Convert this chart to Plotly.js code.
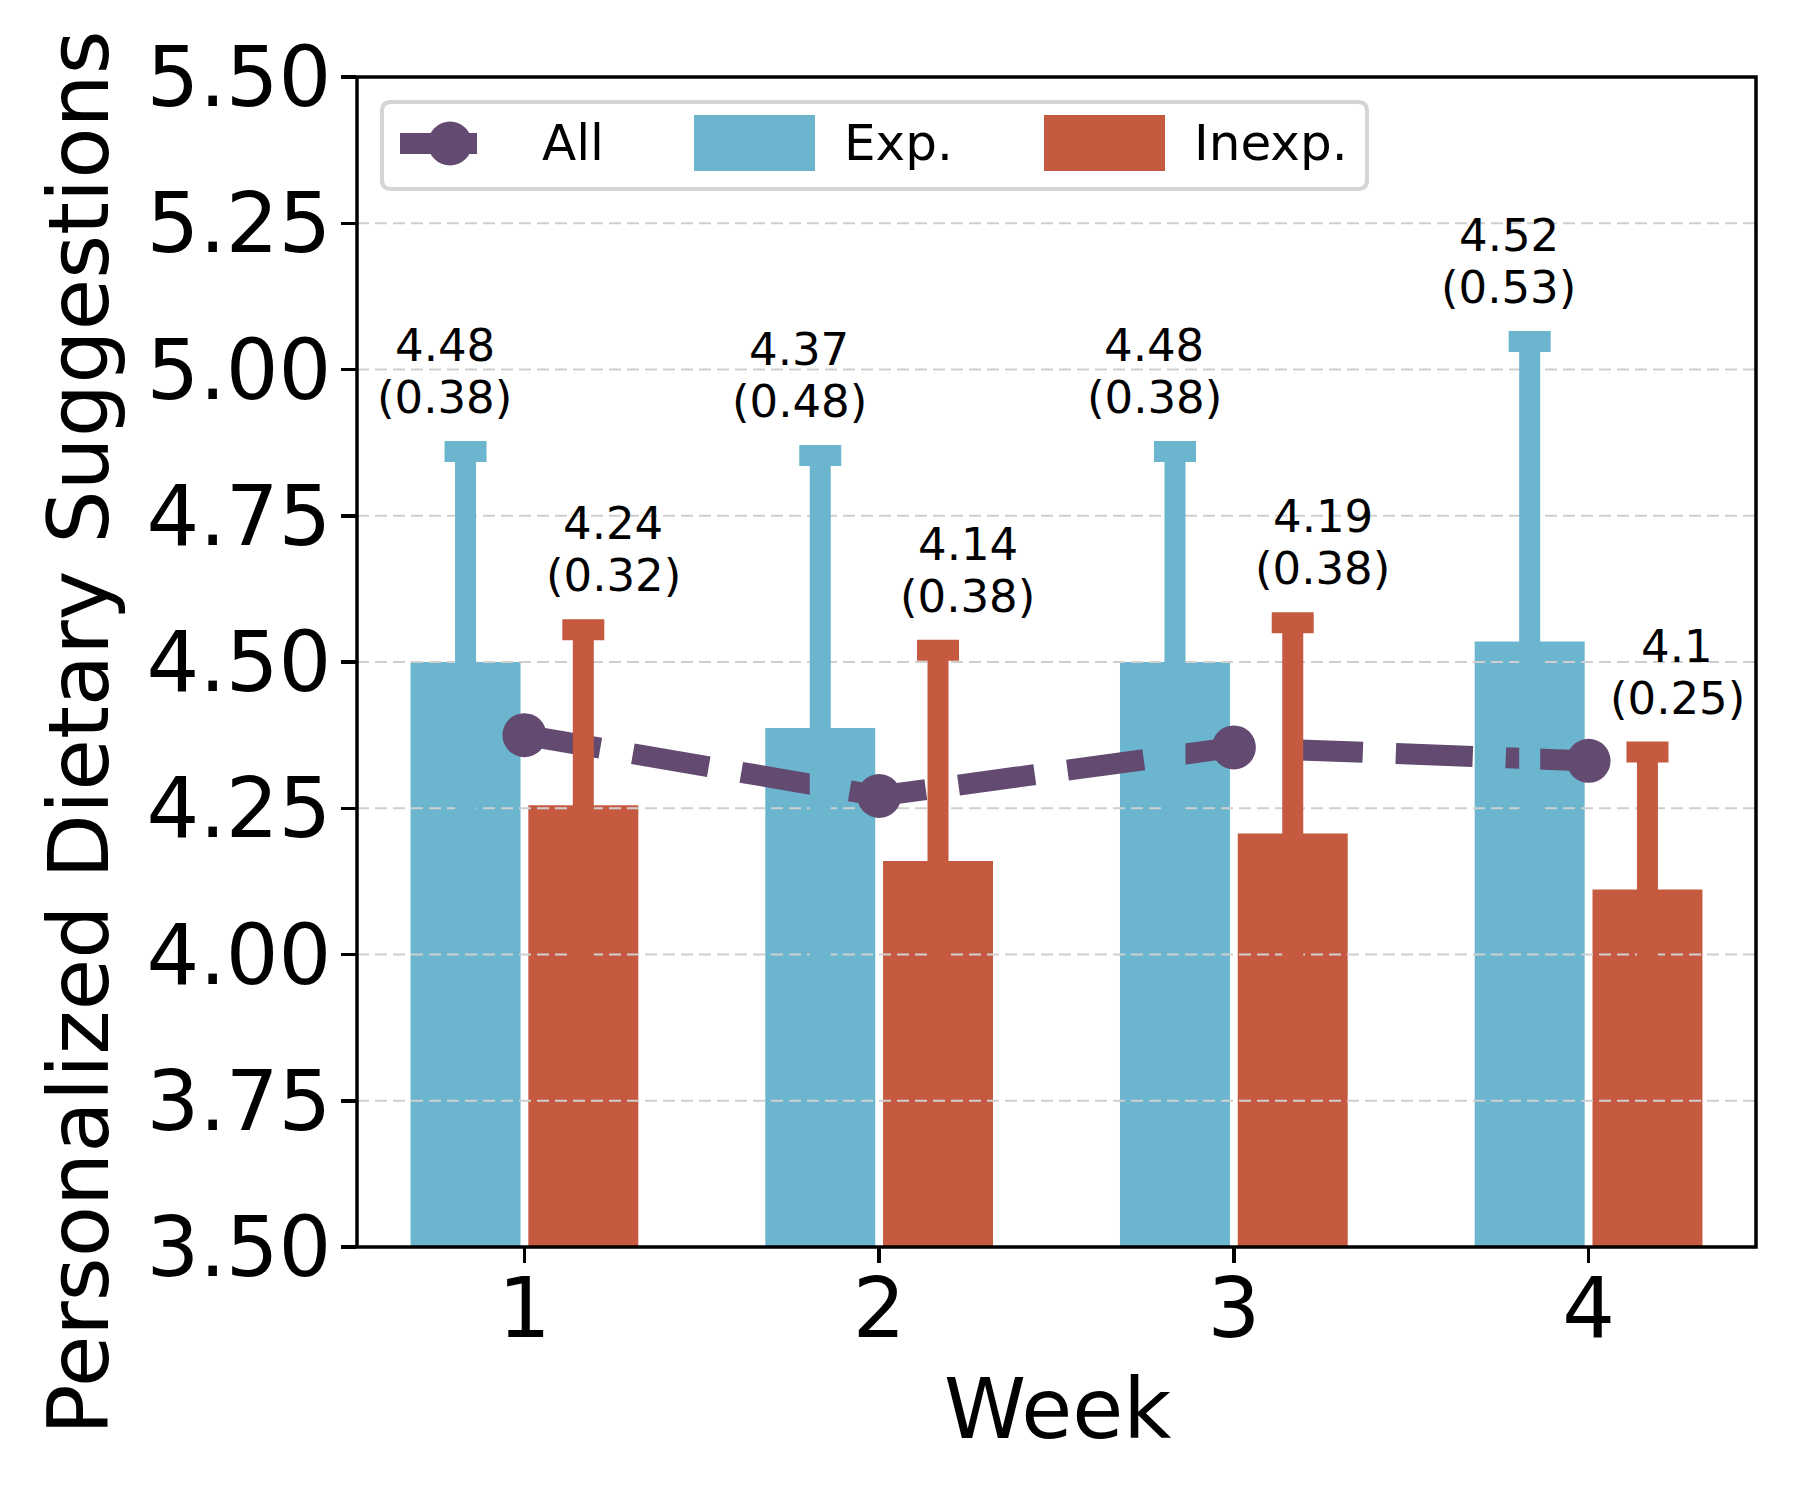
<!DOCTYPE html>
<html>
<head>
<meta charset="utf-8">
<script src="https://cdn.plot.ly/plotly-3.0.1.min.js"></script>
<style>html,body{margin:0;padding:0;background:#fff;}#chart{width:1800px;height:1500px;}</style>
</head>
<body>
<div id="chart"></div>
<script>
// ---- data ----
const weeks = [1, 2, 3, 4];
const allMean = [4.375, 4.271, 4.354, 4.331];
const expMean = [4.50, 4.387, 4.50, 4.535];
const expErr = [0.36, 0.466, 0.36, 0.513];
const inexpMean = [4.255, 4.160, 4.207, 4.111];
const inexpErr = [0.30, 0.36, 0.36, 0.235];
const expLabelMean = ['4.48', '4.37', '4.48', '4.52'];
const expLabelSd = ['0.38', '0.48', '0.38', '0.53'];
const inexpLabelMean = ['4.24', '4.14', '4.19', '4.1'];
const inexpLabelSd = ['0.32', '0.38', '0.38', '0.25'];
const yTicks = [3.5, 3.75, 4.0, 4.25, 4.5, 4.75, 5.0, 5.25, 5.5];
const yTickText = ['3.50', '3.75', '4.00', '4.25', '4.50', '4.75', '5.00', '5.25', '5.50'];
const seriesNames = ['All', 'Exp.', 'Inexp.'];
const xTitle = 'Week';
const yTitle = 'Personalized Dietary Suggestions';

// ---- style ----
const C_ALL = '#624a71', C_EXP = '#6bb6ce', C_INEXP = '#c55a41';
const FONT = 'DejaVu Sans, sans-serif';
const L = 357, T = 77, W = 1399, H = 1170;
const px = p => (p - L) / W;
const py = p => (T + H - p) / H;
const XR = [0.528, 4.472];
const BW = 0.31, EXP_OFF = -0.321, INEXP_OFF = 0.011;
const expC = EXP_OFF + BW / 2, inexpC = INEXP_OFF + BW / 2;
const LX = -3; // legend horizontal nudge (px)

// gridline trace (drawn above bars, below lines like matplotlib)
const gx = [], gy = [];
yTicks.slice(1, -1).forEach(v => { gx.push(XR[0], XR[1], null); gy.push(v, v, null); });

const traces = [
  {type: 'bar', name: seriesNames[1], x: weeks, y: expMean, width: BW, offset: EXP_OFF,
   marker: {color: C_EXP}, showlegend: false, hoverinfo: 'x+y'},
  {type: 'bar', name: seriesNames[2], x: weeks, y: inexpMean, width: BW, offset: INEXP_OFF,
   marker: {color: C_INEXP}, showlegend: false, hoverinfo: 'x+y'},
  {type: 'scatter', mode: 'lines', x: gx, y: gy, hoverinfo: 'skip', showlegend: false,
   line: {color: '#cfcfcf', width: 2, dash: '12px,6px'}},
  {type: 'scatter', mode: 'lines+markers', name: seriesNames[0], x: weeks, y: allMean,
   line: {color: C_ALL, width: 21, dash: '77px,33px'}, marker: {color: C_ALL, size: 44},
   showlegend: false},
  {type: 'scatter', mode: 'markers', x: weeks.map(w => w + expC), y: expMean,
   marker: {opacity: 0, size: 1}, hoverinfo: 'skip', showlegend: false,
   error_y: {type: 'data', array: expErr, visible: true, color: C_EXP, thickness: 21, width: 21}},
  {type: 'scatter', mode: 'markers', x: weeks.map(w => w + inexpC), y: inexpMean,
   marker: {opacity: 0, size: 1}, hoverinfo: 'skip', showlegend: false,
   error_y: {type: 'data', array: inexpErr, visible: true, color: C_INEXP, thickness: 21, width: 21}}
];

const annotations = [];
const LBL = {family: FONT, size: 45, color: '#000'};
function addLabel(x, top, m, s) {
  annotations.push({x: x, y: top, xref: 'x', yref: 'y', text: '(' + s + ')', showarrow: false,
    font: LBL, xanchor: 'center', yanchor: 'middle', yshift: 54});
  annotations.push({x: x, y: top, xref: 'x', yref: 'y', text: m, showarrow: false,
    font: LBL, xanchor: 'center', yanchor: 'middle', yshift: 106});
}
weeks.forEach((w, i) => {
  addLabel(w - 0.225, expMean[i] + expErr[i], expLabelMean[i], expLabelSd[i]);
  addLabel(w + 0.25, inexpMean[i] + inexpErr[i], inexpLabelMean[i], inexpLabelSd[i]);
});
// axis titles
annotations.push({xref: 'paper', yref: 'paper', x: px(79), y: py(733), text: yTitle, textangle: -90,
  showarrow: false, xanchor: 'center', yanchor: 'middle', font: {family: FONT, size: 84, color: '#000'}});
annotations.push({xref: 'paper', yref: 'paper', x: px(1057), y: py(1409), text: xTitle,
  showarrow: false, xanchor: 'center', yanchor: 'middle', font: {family: FONT, size: 83, color: '#000'}});
// legend texts
const LEG = {family: FONT, size: 50, color: '#000'};
[[543 + LX, seriesNames[0]], [845 + LX, seriesNames[1]], [1195 + LX, seriesNames[2]]].forEach(([xp, t]) => {
  annotations.push({xref: 'paper', yref: 'paper', x: px(xp), y: py(143), text: t, showarrow: false,
    xanchor: 'left', yanchor: 'middle', font: LEG});
});

// legend frame (rounded) and handles
function rrect(x0, y0, x1, y1, r) {
  const X = v => px(v).toFixed(5), Y = v => py(v).toFixed(5);
  return `M${X(x0 + r)},${Y(y0)} L${X(x1 - r)},${Y(y0)} Q${X(x1)},${Y(y0)} ${X(x1)},${Y(y0 + r)} ` +
    `L${X(x1)},${Y(y1 - r)} Q${X(x1)},${Y(y1)} ${X(x1 - r)},${Y(y1)} L${X(x0 + r)},${Y(y1)} ` +
    `Q${X(x0)},${Y(y1)} ${X(x0)},${Y(y1 - r)} L${X(x0)},${Y(y0 + r)} Q${X(x0)},${Y(y0)} ${X(x0 + r)},${Y(y0)} Z`;
}
const shapes = [
  // axes frame centred on the plot-area edges (like matplotlib spines)
  {type: 'rect', xref: 'paper', yref: 'paper', x0: 0, x1: 1, y0: 0, y1: 1,
   line: {color: '#000', width: 3.5}, fillcolor: 'rgba(0,0,0,0)', layer: 'above'},
  {type: 'path', xref: 'paper', yref: 'paper', path: rrect(382, 102, 1367, 189, 9),
   line: {color: '#d5d5d5', width: 4}, fillcolor: 'rgba(255,255,255,0.85)', layer: 'above'},
  {type: 'line', xref: 'paper', yref: 'paper', x0: px(403 + LX), x1: px(480 + LX), y0: py(143.5), y1: py(143.5),
   line: {color: C_ALL, width: 21}, layer: 'above'},
  {type: 'circle', xref: 'paper', yref: 'paper', x0: px(431 + LX), x1: px(475 + LX), y0: py(121.5), y1: py(165.5),
   fillcolor: C_ALL, line: {width: 0}, layer: 'above'},
  {type: 'rect', xref: 'paper', yref: 'paper', x0: px(697 + LX), x1: px(818 + LX), y0: py(115), y1: py(171),
   fillcolor: C_EXP, line: {width: 0}, layer: 'above'},
  {type: 'rect', xref: 'paper', yref: 'paper', x0: px(1047 + LX), x1: px(1168 + LX), y0: py(115), y1: py(171),
   fillcolor: C_INEXP, line: {width: 0}, layer: 'above'}
];

const layout = {
  width: 1800, height: 1500,
  margin: {l: L, r: 1800 - L - W, t: T, b: 1500 - T - H, pad: 0},
  paper_bgcolor: '#fff', plot_bgcolor: '#fff',
  font: {family: FONT, color: '#000'},
  barmode: 'overlay',
  showlegend: false,
  xaxis: {range: XR, tickvals: weeks, ticktext: weeks.map(String), showgrid: false, zeroline: false,
    showline: false, ticks: 'outside', ticklen: 15, tickwidth: 3.5, tickcolor: '#000',
    ticklabelstandoff: -26,
    tickfont: {family: FONT, size: 83, color: '#000'}},
  yaxis: {range: [3.5, 5.5], tickvals: yTicks, ticktext: yTickText, showgrid: false, zeroline: false,
    showline: false, ticks: 'outside', ticklen: 15, tickwidth: 3.5, tickcolor: '#000',
    ticklabelstandoff: -7,
    tickfont: {family: FONT, size: 83, color: '#000'}},
  annotations: annotations,
  shapes: shapes
};

Plotly.newPlot('chart', traces, layout, {staticPlot: true, displayModeBar: false});
</script>
</body>
</html>
